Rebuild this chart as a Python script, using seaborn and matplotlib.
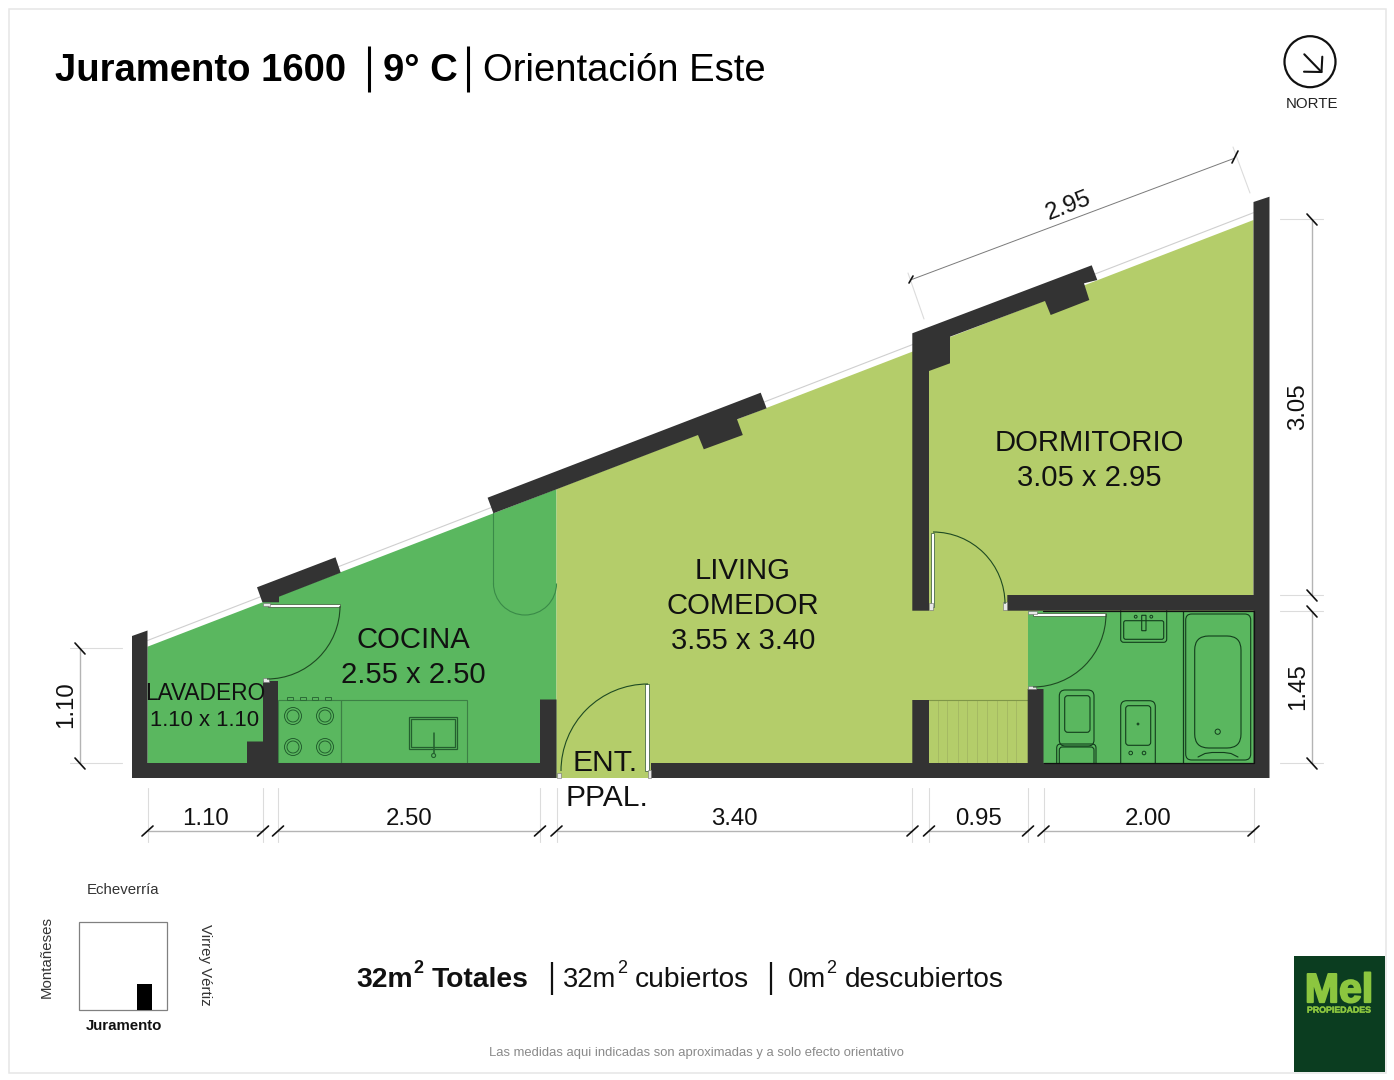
import numpy as np
import pandas as pd
import matplotlib
matplotlib.use("Agg")
import matplotlib.pyplot as plt
import matplotlib.patheffects as pe
from matplotlib.patches import Polygon, Rectangle, Arc, Circle, FancyBboxPatch
import seaborn as sns

# ---------- plan data (page pixels) ----------
KITCHEN_ZONE = [(147.5, 646.7), (556.5, 489), (556.5, 778), (147.5, 778)]
LIVING_ZONE = [(556.5, 489), (1253.5, 220), (1253.5, 778), (556.5, 778)]
BATH_ZONE = [(1027.7, 610.7), (1253.5, 610.7), (1253.5, 763), (1027.7, 763)]

WALLS = [
    [(132, 636), (147.5, 630.5), (147.5, 763), (247, 763), (247, 741.5), (263, 741.5), (263, 681),
     (278, 681), (278, 763), (540, 763), (540, 699.5), (556.5, 699.5), (556.5, 778), (132, 778)],
    [(651, 763), (912.3, 763), (912.3, 700), (929, 700), (929, 763), (1027.7, 763), (1027.7, 689),
     (1043.5, 689), (1043.5, 763), (1253.5, 763), (1253.5, 610.7), (1007.3, 610.7), (1007.3, 595),
     (1253.5, 595), (1253.5, 202), (1269.5, 196.7), (1269.5, 778), (651, 778)],
    [(912.3, 333.3), (1091.7, 265.3), (1097.3, 280), (1084, 283.3), (1089.3, 300), (1050.7, 315),
     (1045, 301), (950, 336.7), (950, 363.3), (929, 371), (929, 610.7), (912.3, 610.7)],
    [(487.6, 497.7), (760.7, 392.7), (766.6, 408.3), (737, 419.3), (742.8, 435), (703.8, 449.3),
     (698, 435), (556.5, 489.3), (493.4, 513.3)],
    [(257, 587.3), (335.5, 557.3), (340.7, 572.7), (279, 596.7), (279, 602.3), (262.4, 602.3)],
]

GLASS_LINE_X = [147.5, 1253.5]
GLASS_LINE_Y = [640.5, 212.7]

# door leaves and jambs: x, y, w, h
DOOR_LEAVES = [(268, 604, 72, 3.2), (644.5, 684, 4, 87), (930.5, 532.5, 3, 74), (1032.7, 613.3, 73, 2.6)]
DOOR_JAMBS = [(262.5, 603, 7, 3), (262.5, 678, 6, 4), (557, 773, 4, 5), (648, 770, 3, 8),
              (929, 603, 4, 7), (1003, 602, 4, 8), (1028, 611, 9, 3), (1028, 686, 8, 3)]
# door arcs: cx, cy, r, theta1, theta2
DOOR_ARCS = [(267, 606, 73, 0, 90), (648, 771, 87, 180, 270), (933, 604, 72, 270, 360), (1033, 614, 73, 0, 90)]
SWING_ARC = (525, 583.5, 31.5, 0, 180)
SWING_LINES_X = [493.4, 493.4]
SWING_LINES_Y = [513, 583.5]

STEP_XS = [938, 947, 958, 967, 977, 987, 997, 1007, 1016]
STEP_Y = [700, 763]
STEP_TOP_X = [929, 1028]
STEP_TOP_Y = [700, 700]

COUNTER_BOXES = [(278, 700, 63.4, 63), (341.4, 700, 125.6, 63)]
SINK_BOXES = [(409, 716.7, 48, 32.6), (411, 718.7, 44, 28.6)]
FAUCET_X = [433.6, 433.6]
FAUCET_Y = [733, 753]
FAUCET_TIP = (433.6, 755.5, 2)
BURNER_XS = [293, 325]
BURNER_YS = [716, 747]
BURNER_RADII = [8.5, 6]
KNOB_XS = [290, 302.5, 315, 327.5]

BATH_DIVIDER_X = [1182.7, 1182.7]
BATH_DIVIDER_Y = [610.7, 763]
# x, y, w, h, rounding
FIXTURES = [
    (1185.7, 614, 65, 146, 6), (1194.7, 636, 46.3, 112, 14),
    (1120.7, 606, 46, 36.3, 3), (1123.7, 620.7, 40, 18.6, 2), (1141.7, 615.3, 4.3, 15.4, 0.3),
    (1056.7, 744, 39.3, 25, 4), (1059.3, 747, 34.7, 25, 3),
    (1059.3, 690, 34.7, 56, 6), (1064.7, 695.7, 25.3, 36.6, 3),
    (1120.7, 700.7, 34.6, 70, 6), (1125.7, 705.7, 25, 39.6, 3),
]
TUB_FOOT_X = [1198, 1205, 1212, 1224, 1231, 1238]
TUB_FOOT_Y = [757, 753.5, 752.5, 752.5, 753.5, 757]
BATH_DOTS = [(1217.7, 731.7, 2.6), (1135.7, 616.7, 1.4), (1151.3, 616.7, 1.4), (1138, 724, 0.9),
             (1130.7, 753, 1.8), (1144, 753, 1.8)]

# dimension lines: x0, y0, x1, y1
DIM_LINES = [
    (147.5, 831, 263, 831), (278, 831, 540, 831), (556.5, 831, 912.3, 831), (929, 831, 1028, 831),
    (1043.5, 831, 1253.5, 831),
    (1312, 219, 1312, 595), (1312, 611, 1312, 763),
    (80, 648, 80, 763),
]
DIAG_DIM_LINE = [(912.3, 279.3, 1234.3, 158.3)]
EXT_LINES = [
    (147.5, 788, 147.5, 842), (263, 788, 263, 842), (278, 788, 278, 842), (540, 788, 540, 842),
    (556.5, 788, 556.5, 842), (912.3, 788, 912.3, 842), (929, 788, 929, 842), (1028, 788, 1028, 842),
    (1043.5, 788, 1043.5, 842), (1253.5, 788, 1253.5, 842),
    (1280, 219, 1323, 219), (1280, 595, 1323, 595), (1280, 611, 1323, 611), (1280, 763, 1323, 763),
    (70, 648, 122, 648), (70, 763, 122, 763),
    (908, 273, 924, 319), (1233, 147, 1250, 193),
]
TICKS = [
    (142, 836, 153, 826), (257.5, 836, 268.5, 826), (272.5, 836, 283.5, 826), (534.5, 836, 545.5, 826),
    (551, 836, 562, 826), (907, 836, 918, 826), (923.5, 836, 934.5, 826), (1022.5, 836, 1033.5, 826),
    (1038, 836, 1049, 826), (1248, 836, 1259, 826),
    (1307, 214, 1317, 225), (1307, 590, 1317, 601), (1307, 606, 1317, 617), (1307, 758, 1317, 769),
    (75, 643, 85, 654), (75, 758, 85, 769),
    (909, 283, 913, 276), (1232, 163, 1238, 151),
]

# text: label, x centre, y caps centre, size in px
ROOM_TEXT = [
    ("COCINA", 413, 637.3, 29.2), ("2.55 x 2.50", 413.5, 672.3, 29.2),
    ("LIVING", 743, 568.3, 29.2), ("COMEDOR", 743, 603.3, 29.2), ("3.55 x 3.40", 743, 638.3, 29.2),
    ("DORMITORIO", 1089, 440.3, 29.2), ("3.05 x 2.95", 1089, 475.3, 29.2),
    ("LAVADERO", 205, 692, 22.7), ("1.10 x 1.10", 205, 718, 22.2),
    ("ENT.", 605.5, 760.3, 30), ("PPAL.", 606.5, 795.3, 30),
]
DIM_TEXT = [("1.10", 205, 816), ("2.50", 409.5, 816), ("3.40", 734, 816), ("0.95", 978, 816), ("2.00", 1148, 816)]
DIM_TEXT_ROT = [("3.05", 1298, 407, 90), ("1.45", 1298, 687, 90), ("1.10", 66, 705, 90), ("2.95", 1068.5, 206, 21)]
TITLE_PARTS = [("Juramento 1600", 55, "bold"), ("9° C", 383, "bold"), ("Orientación Este", 483, "normal")]
TITLE_BARS = [369, 468]
AREA_PARTS = [("32m", 356, "bold", 28.2), ("2", 413, "bold", 18), ("Totales", 432, "bold", 28.2),
              ("32m", 563, "normal", 27.4), ("2", 617, "normal", 18), ("cubiertos", 635, "normal", 28.1),
              ("0m", 788, "normal", 27.4), ("2", 826, "normal", 18), ("descubiertos", 845, "normal", 28)]
AREA_BARS = [552, 771]
STREETS = [("Echeverría", 123, 890.5, 0, "normal"), ("Juramento", 124, 1025.5, 0, "bold"),
           ("Montañeses", 46.5, 957, 90, "normal"), ("Virrey Vértiz", 204.5, 965, 270, "normal")]
NOTE = "Las medidas aqui indicadas son aproximadas y a solo efecto orientativo"

WALL = "#333333"
GREEN_D = "#5ab75f"
GREEN_L = "#b4cd6a"
LINE_D = "#123d1c"

# ---------- drawing ----------
sns.set_theme(style="white")
plt.rcParams["font.family"] = ["Liberation Sans", "DejaVu Sans"]
PX = 0.72

fig = plt.figure(figsize=(13.94, 10.8), dpi=100, facecolor="white")
ax = fig.add_axes([0, 0, 1, 1])


def segments(rows):
    return pd.DataFrame(
        [{"id": i, "x": x, "y": y, "o": o}
         for i, r in enumerate(rows) for o, (x, y) in enumerate(((r[0], r[1]), (r[2], r[3])))]
    )


def draw_segments(rows, color, lw, z):
    sns.lineplot(data=segments(rows), x="x", y="y", units="id", estimator=None, sort=False,
                 color=color, lw=lw, ax=ax, legend=False, zorder=z)


def caps(label, x, y, px, ha="center", weight="normal", color="#111111", z=8):
    return ax.text(x, y + 0.358 * px, label, ha=ha, va="baseline", fontsize=px * PX,
                   fontweight=weight, color=color, zorder=z)


# page frame
ax.add_patch(Rectangle((8.5, 8.5), 1377, 1064, fc="white", ec="#e6e6e6", lw=1.1, zorder=0))

# floors
ax.add_patch(Polygon(KITCHEN_ZONE, fc=GREEN_D, ec="none", zorder=1))
ax.add_patch(Polygon(LIVING_ZONE, fc=GREEN_L, ec="none", zorder=1))
ax.add_patch(Rectangle(BATH_ZONE[0], BATH_ZONE[1][0] - BATH_ZONE[0][0], BATH_ZONE[2][1] - BATH_ZONE[0][1],
                       fc=GREEN_D, ec="none", zorder=1))
ax.plot(GLASS_LINE_X, GLASS_LINE_Y, color="#cfcfcf", lw=0.8, zorder=1)

# kitchen
for x, y, w, h in COUNTER_BOXES:
    ax.add_patch(Rectangle((x, y), w, h, fc="none", ec="#3c7f45", lw=0.8, zorder=2))
for x, y, w, h in SINK_BOXES:
    ax.add_patch(Rectangle((x, y), w, h, fc="none", ec="#235f2e", lw=0.9, zorder=2))
ax.plot(FAUCET_X, FAUCET_Y, color="#235f2e", lw=1.1, zorder=2)
ax.add_patch(Circle(FAUCET_TIP[:2], FAUCET_TIP[2], fc="none", ec="#235f2e", lw=0.8, zorder=2))
for bx in BURNER_XS:
    for by in BURNER_YS:
        for r in BURNER_RADII:
            ax.add_patch(Circle((bx, by), r, fc="none", ec="#1f5a2b", lw=0.65, zorder=2))
for kx in KNOB_XS:
    ax.add_patch(Rectangle((kx - 3, 697), 6, 3, fc="none", ec="#2c6a37", lw=0.7, zorder=2))

# stairs
for sx in STEP_XS:
    ax.plot([sx, sx], STEP_Y, color="#a3b762", lw=0.6, zorder=2)
ax.plot(STEP_TOP_X, STEP_TOP_Y, color="#7f9648", lw=0.8, zorder=2)

# bathroom fixtures
ax.plot(BATH_DIVIDER_X, BATH_DIVIDER_Y, color=LINE_D, lw=0.9, zorder=2)
for x, y, w, h, rnd in FIXTURES:
    ax.add_patch(FancyBboxPatch((x + rnd, y + rnd), w - 2 * rnd, h - 2 * rnd,
                                boxstyle=f"round,pad={rnd},rounding_size={rnd}",
                                fc="none", ec=LINE_D, lw=0.8, zorder=2))
ax.plot(TUB_FOOT_X, TUB_FOOT_Y, color=LINE_D, lw=0.8, zorder=2)
for x, y, r in BATH_DOTS:
    ax.add_patch(Circle((x, y), r, fc="none", ec=LINE_D, lw=0.7, zorder=2))

# walls (covering fixtures that run under them)
for poly in WALLS:
    ax.add_patch(Polygon(poly, fc=WALL, ec="none", zorder=4))
ax.plot([1043.5, 1253.5, 1253.5, 1043], [763, 763, 610.7, 610.7], color="#111111", lw=0.9, zorder=4)

# doors
for x, y, w, h in DOOR_LEAVES:
    ax.add_patch(Rectangle((x, y), w, h, fc="white", ec="#4a6a45", lw=0.6, zorder=5))
for x, y, w, h in DOOR_JAMBS:
    ax.add_patch(Rectangle((x, y), w, h, fc="#e8e8e8", ec="#6e6e6e", lw=0.4, zorder=5))
for cx, cy, r, t1, t2 in DOOR_ARCS:
    ax.add_patch(Arc((cx, cy), 2 * r, 2 * r, theta1=t1, theta2=t2, color="#1e4a22", lw=0.8, zorder=5))
cx, cy, r, t1, t2 = SWING_ARC
ax.add_patch(Arc((cx, cy), 2 * r, 2 * r, theta1=t1, theta2=t2, color="#3a8a48", lw=0.8, zorder=2))
ax.plot(SWING_LINES_X, SWING_LINES_Y, color="#3a8a48", lw=0.8, zorder=2)

# dimensions
draw_segments(EXT_LINES, "#dcdcdc", 0.8, 3)
draw_segments(DIM_LINES, "#b4b4b4", 1.0, 3)
draw_segments(DIAG_DIM_LINE, "#7a7a7a", 0.7, 3)
draw_segments(TICKS, "#111111", 1.2, 6)

# text
for label, x, y, px in ROOM_TEXT:
    caps(label, x, y, px)
for label, x, y in DIM_TEXT:
    caps(label, x, y, 24)
for label, x, y, rot in DIM_TEXT_ROT:
    ax.text(x, y, label, rotation=rot, rotation_mode="anchor", ha="center", va="center",
            fontsize=24 * PX, color="#111111", zorder=8)

for label, x, weight in TITLE_PARTS:
    caps(label, x, 67.5, 38.3, ha="left", weight=weight, color="black")
for bx in TITLE_BARS:
    ax.plot([bx, bx], [46, 92], color="black", lw=2.2, solid_capstyle="butt", zorder=8)

# north mark
ax.add_patch(Circle((1310, 61.7), 25.5, fc="none", ec="#111111", lw=1.6, zorder=8))
ax.plot([1304.3, 1321.5], [54.3, 72], color="#111111", lw=1.5, zorder=8)
ax.plot([1322.3, 1321.5, 1304], [56.7, 72, 71.7], color="#111111", lw=1.5, zorder=8)
caps("NORTE", 1312, 103, 15, color="#222222")

# area summary
for label, x, weight, px in AREA_PARTS:
    yc = 977 if px > 20 else 967
    caps(label, x, yc, px, ha="left", weight=weight, color="#111111")
for bx in AREA_BARS:
    ax.plot([bx, bx], [962, 995], color="#111111", lw=1.6, solid_capstyle="butt", zorder=8)

# location map
ax.add_patch(Rectangle((78.7, 922.3), 88, 87.7, fc="white", ec="#808080", lw=0.9, zorder=2))
ax.add_patch(Rectangle((137.3, 984.3), 14.4, 25.7, fc="black", ec="none", zorder=3))
for label, x, y, rot, weight in STREETS:
    ax.text(x, y, label, rotation=rot, rotation_mode="anchor", ha="center", va="center",
            fontsize=15 * PX, fontweight=weight, color="#333333" if weight == "normal" else "#111111", zorder=8)

ax.text(696.5, 1053, NOTE, ha="center", va="center", fontsize=13 * PX, color="#8a8a8a", zorder=8)

# logo
ax.add_patch(Rectangle((1293.7, 956), 91.6, 116, fc="#0b3d20", ec="none", zorder=8))
mel = caps("Mel", 1339, 987.5, 41, weight="bold", color="#8cc63f", z=9)
mel.set_path_effects([pe.withStroke(linewidth=1.4, foreground="#8cc63f")])
plate = caps("PROPIEDADES", 1339, 1009.5, 8.8, weight="bold", color="#8cc63f", z=9)
plate.set_path_effects([pe.withStroke(linewidth=0.3, foreground="#8cc63f")])

ax.set_xlim(0, 1394)
ax.set_ylim(1080, 0)
ax.set_axis_off()
fig.savefig("out.png", dpi=100, facecolor="white")
